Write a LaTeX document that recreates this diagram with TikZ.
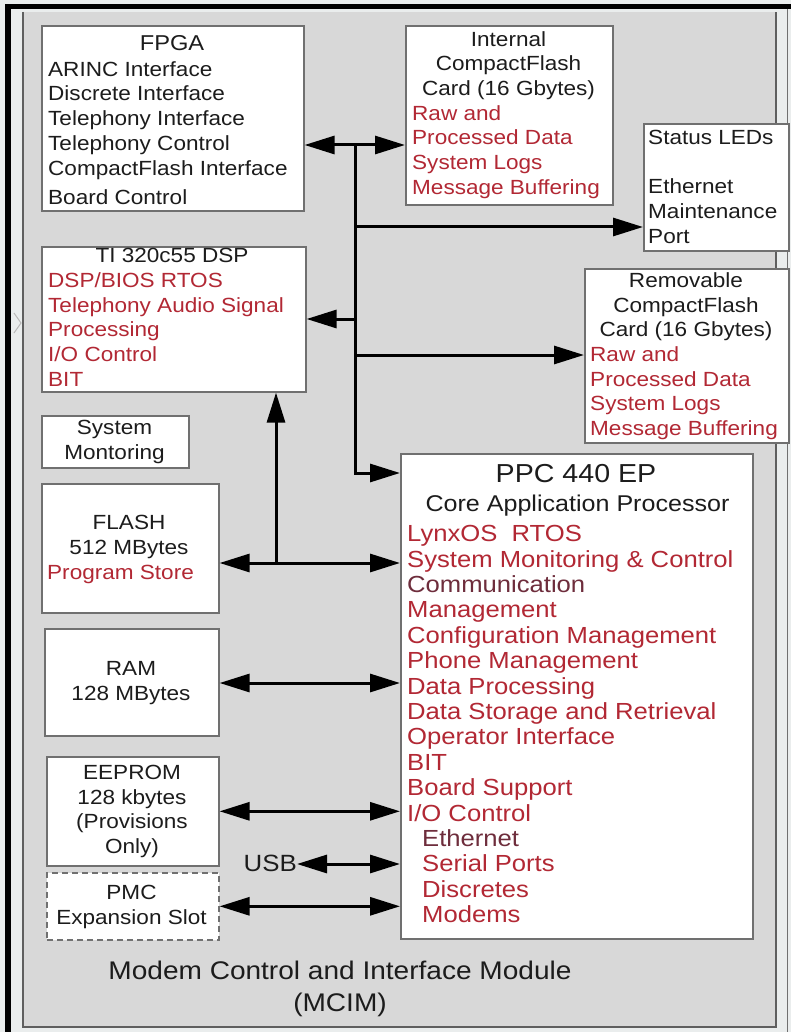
\documentclass[tikz,border=0pt]{standalone}
\usepackage{fontspec}
\setmainfont[FakeStretch=1.1]{Liberation Sans}
\usetikzlibrary{arrows.meta}
\definecolor{txtred}{RGB}{178,40,52}
\definecolor{txtdkred}{RGB}{110,45,60}
\definecolor{txtdark}{RGB}{28,28,28}
\definecolor{boxgray}{RGB}{112,112,112}
\definecolor{modfill}{RGB}{216,216,216}
\definecolor{modline}{RGB}{95,95,95}
\definecolor{outerbg}{RGB}{234,237,237}
\begin{document}
\begin{tikzpicture}[x=1pt,y=-1pt,
  >={Triangle[length=30pt,width=18pt]},
  box/.style={draw=boxgray,line width=1.6pt,fill=white,rectangle,inner sep=0pt,anchor=north west},
  dbox/.style={box,dashed,dash pattern=on 6pt off 4pt},
  txt/.style={inner sep=0pt,text=txtdark,font=\fontsize{20.5}{24.8}\selectfont},
  rtxt/.style={txt,text=txtred},
  conn/.style={line width=3pt,black}]
% background and frame
\useasboundingbox (0,0) rectangle (791,1032);
\fill[outerbg] (0,0) rectangle (791,1032);
\fill[modfill] (23,12) rectangle (776,1027);
\draw[modline,line width=2pt] (23,12) -- (23,1027) -- (776,1027) -- (776,12);
\draw[boxgray,line width=1.5pt] (787.5,9) -- (787.5,1032);
\fill[black] (5,4) rectangle (791,9);
\fill[black] (5,4) rectangle (11,1032);
\draw[gray!55,line width=1pt] (14,313) -- (21,323) -- (14,333);
% boxes
\node[box,minimum width=262pt,minimum height=185pt] (fpga) at (41,25) {};
\node[box,minimum width=264pt,minimum height=145pt] (dsp) at (41,246) {};
\node[box,minimum width=207pt,minimum height=179pt] (cf1) at (405,25) {};
\node[box,minimum width=145pt,minimum height=127pt] (led) at (643,123) {};
\node[box,minimum width=204pt,minimum height=174pt] (cf2) at (584,268) {};
\node[box,minimum width=147pt,minimum height=52pt] (sysmon) at (41,415) {};
\node[box,minimum width=177pt,minimum height=129pt] (flash) at (41,483) {};
\node[box,minimum width=174pt,minimum height=107pt] (ram) at (44,628) {};
\node[box,minimum width=172pt,minimum height=109pt] (eeprom) at (46,756) {};
\node[dbox,minimum width=172pt,minimum height=67pt] (pmc) at (46,872) {};
\node[box,minimum width=352pt,minimum height=485pt] (ppc) at (400,453) {};
% texts
\node[txt,font=\fontsize{21.5}{24.8}\selectfont,anchor=base] (fpgat) at (172,50.5) {FPGA};
\node[txt,align=left,anchor=north west] (fpgab) at (48,58.64)
 {\strut ARINC Interface\\Discrete Interface\\Telephony Interface\\Telephony Control\\CompactFlash Interface\\[4pt]Board Control};
\node[txt,anchor=base] (dspt) at (172,262) {TI 320c55 DSP};
\node[rtxt,align=left,anchor=north west] (dspb) at (48,269.64)
 {\strut DSP/BIOS RTOS\\Telephony Audio Signal\\Processing\\I/O Control\\BIT};
\node[txt,align=center,anchor=north] (cf1t) at (508.5,28.64)
 {\strut Internal\\CompactFlash\\Card (16 Gbytes)};
\node[rtxt,align=left,anchor=north west] (cf1b) at (412,102.64)
 {\strut Raw and\\Processed Data\\System Logs\\Message Buffering};
\node[txt,align=left,anchor=north west] (ledt) at (648,126.64)
 {\strut Status LEDs\\[24.8pt]Ethernet\\Maintenance\\Port};
\node[txt,align=center,anchor=north] (cf2t) at (686,269.64)
 {\strut Removable\\CompactFlash\\Card (16 Gbytes)};
\node[rtxt,align=left,anchor=north west] (cf2b) at (590,343.64)
 {\strut Raw and\\Processed Data\\System Logs\\Message Buffering};
\node[txt,align=center,anchor=north] (sysmont) at (114.5,416.64) {\strut System\\Montoring};
\node[txt,align=center,anchor=north] (flasht) at (129,511.64) {\strut FLASH\\512 MBytes};
\node[rtxt,anchor=base west] (flashb) at (47,579) {Program Store};
\node[txt,align=center,anchor=north] (ramt) at (131,657.64) {\strut RAM\\128 MBytes};
\node[txt,align=center,anchor=north] (eepromt) at (132,761.64) {\strut EEPROM\\128 kbytes\\(Provisions\\Only)};
\node[txt,align=center,anchor=north] (pmct) at (131.5,881.64) {\strut PMC\\Expansion Slot};
\node[txt,font=\fontsize{23.5}{28}\selectfont,anchor=base east] (usb) at (297,871) {USB};
\node[txt,font=\fontsize{26}{30}\selectfont,anchor=base] (ppct) at (576,482) {PPC 440 EP};
\node[txt,font=\fontsize{22.8}{26}\selectfont,anchor=base] (ppcs) at (577.5,511) {Core Application Processor};
\node[rtxt,font=\fontsize{23.3}{25.4}\selectfont,align=left,anchor=north west] (ppcb) at (407,523.7)
 {\strut LynxOS\ \ RTOS\\
  System Monitoring \& Control\\
  \textcolor{txtdkred}{Communication}\\
  Management\\
  Configuration Management\\
  Phone Management\\
  Data Processing\\
  Data Storage and Retrieval\\
  Operator Interface\\
  BIT\\
  Board Support\\
  I/O Control\\
  \hspace*{15pt}\textcolor{txtdkred}{Ethernet}\\
  \hspace*{15pt}Serial Ports\\
  \hspace*{15pt}Discretes\\
  \hspace*{15pt}Modems};
\node[txt,font=\fontsize{25.5}{32}\selectfont,align=center,anchor=north] (modlabel) at (340,956.6)
 {\strut Modem Control and Interface Module\\(MCIM)};
% bus coordinates
\coordinate (b1) at (355,145);
\coordinate (b2) at (355,227);
\coordinate (b3) at (355,319);
\coordinate (b4) at (355,355);
\coordinate (b5) at (355,473);
\coordinate (f1) at (276,563);
\coordinate (r1) at (300,683);
\coordinate (u1) at (300,864);
% connectors
\draw[conn,<->] (fpga.east |- b1) -- (cf1.west |- b1);
\draw[conn,->] (b1) -- (b5) -- (ppc.west |- b5);
\draw[conn,->] (b2) -- (led.west |- b2);
\draw[conn,->] (b3) -- (dsp.east |- b3);
\draw[conn,->] (b4) -- (cf2.west |- b4);
\draw[conn,<->] (flash.east |- f1) -- (ppc.west |- f1);
\draw[conn,->] (f1) -- (dsp.south -| f1);
\draw[conn,<->] (ram.east |- r1) -- (ppc.west |- r1);
\draw[conn,<->] (eeprom.east) -- (ppc.west |- eeprom.east);
\draw[conn,<->] (usb.east |- u1) -- (ppc.west |- u1);
\draw[conn,<->] (pmc.east) -- (ppc.west |- pmc.east);
\end{tikzpicture}
\end{document}
